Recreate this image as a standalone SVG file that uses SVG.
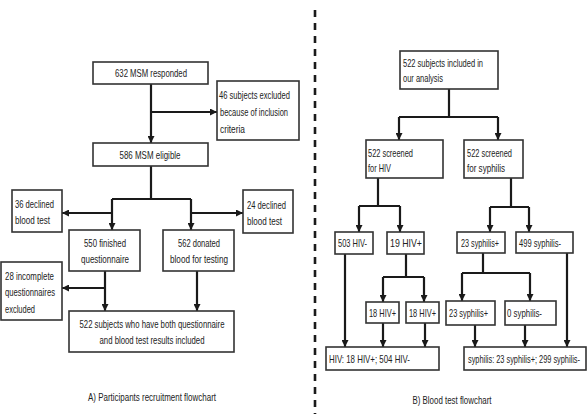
<svg xmlns="http://www.w3.org/2000/svg" width="588" height="420" viewBox="0 0 588 420">
<defs>
<marker id="ah" viewBox="0 0 8 8" refX="8" refY="4" markerWidth="7" markerHeight="7" markerUnits="userSpaceOnUse" orient="auto">
<path d="M0,0 L8,4 L0,8 z" fill="#1a1a1a"/>
</marker>
<style>
.box{fill:#fff;stroke:#333;stroke-width:1.6}
.t{font-family:"Liberation Sans",Arial,sans-serif;font-size:10.2px;fill:#222}
.c{text-anchor:middle}
.ln{fill:none;stroke:#1a1a1a;stroke-width:2.2}
.ar{fill:none;stroke:#1a1a1a;stroke-width:2.2;marker-end:url(#ah)}
.dash{stroke:#1a1a1a;stroke-width:2.6;stroke-dasharray:7 6}
</style>
</defs>
<rect width="588" height="420" fill="#fff"/>
<line class="dash" x1="315" y1="10" x2="315" y2="414"/>
<g id="connectors">
<path class="ar" d="M151,84 V143"/>
<path class="ar" d="M151,112 H217"/>
<path class="ln" d="M151,166 V199 M112,199 H191"/>
<path class="ar" d="M112,199 V230"/>
<path class="ar" d="M191,199 V230"/>
<path class="ar" d="M112,213 H62"/>
<path class="ar" d="M191,213 H243"/>
<path class="ar" d="M105,271 V311"/>
<path class="ar" d="M105,288 H62"/>
<path class="ar" d="M197,271 V311"/>
<path class="ln" d="M449,89 V117 M399,117 H498"/>
<path class="ar" d="M399,117 V140"/>
<path class="ar" d="M498,117 V140"/>
<path class="ln" d="M378,178 V206 M359,206 H400"/>
<path class="ar" d="M359,206 V232"/>
<path class="ar" d="M400,206 V232"/>
<path class="ar" d="M345,254 V347"/>
<path class="ln" d="M406,254 V277 M383,277 H424"/>
<path class="ar" d="M383,277 V302"/>
<path class="ar" d="M424,277 V302"/>
<path class="ar" d="M383,323 V347"/>
<path class="ar" d="M425,323 V347"/>
<path class="ln" d="M511,178 V207 M490,207 H529"/>
<path class="ar" d="M490,207 V232"/>
<path class="ar" d="M529,207 V232"/>
<path class="ln" d="M483,253 V273 M462,273 H530"/>
<path class="ar" d="M462,273 V301"/>
<path class="ar" d="M530,273 V301"/>
<path class="ar" d="M475,325 V347"/>
<path class="ar" d="M525,325 V347"/>
<path class="ar" d="M567,253 V347"/>
</g>
<g id="n632"><rect class="box" x="93" y="62" width="115" height="22"/><text class="t c" x="151" y="77" textLength="72" lengthAdjust="spacingAndGlyphs">632 MSM responded</text></g>
<g id="n46"><rect class="box" x="217" y="81" width="82" height="59"/><text class="t" x="219" y="99" textLength="71" lengthAdjust="spacingAndGlyphs">46 subjects excluded</text><text class="t" x="220" y="116" textLength="68" lengthAdjust="spacingAndGlyphs">because of inclusion</text><text class="t" x="220" y="133" textLength="25" lengthAdjust="spacingAndGlyphs">criteria</text></g>
<g id="n586"><rect class="box" x="93" y="143" width="115" height="23"/><text class="t c" x="150" y="159" textLength="61" lengthAdjust="spacingAndGlyphs">586 MSM eligible</text></g>
<g id="n36"><rect class="box" x="12" y="190" width="50" height="42"/><text class="t" x="15" y="208" textLength="39" lengthAdjust="spacingAndGlyphs">36 declined</text><text class="t" x="15" y="224" textLength="35" lengthAdjust="spacingAndGlyphs">blood test</text></g>
<g id="n24"><rect class="box" x="243" y="190" width="50" height="43"/><text class="t" x="247" y="209" textLength="39" lengthAdjust="spacingAndGlyphs">24 declined</text><text class="t" x="247" y="225" textLength="35" lengthAdjust="spacingAndGlyphs">blood test</text></g>
<g id="n550"><rect class="box" x="69" y="230" width="71" height="41"/><text class="t c" x="105" y="247" textLength="42" lengthAdjust="spacingAndGlyphs">550 finished</text><text class="t c" x="105" y="263" textLength="48" lengthAdjust="spacingAndGlyphs">questionnaire</text></g>
<g id="n562"><rect class="box" x="163" y="230" width="71" height="41"/><text class="t c" x="199" y="247" textLength="42" lengthAdjust="spacingAndGlyphs">562 donated</text><text class="t c" x="199" y="263" textLength="58" lengthAdjust="spacingAndGlyphs">blood for testing</text></g>
<g id="n28"><rect class="box" x="1" y="262" width="61" height="58"/><text class="t" x="5" y="280" textLength="49" lengthAdjust="spacingAndGlyphs">28 incomplete</text><text class="t" x="5" y="296" textLength="50" lengthAdjust="spacingAndGlyphs">questionnaires</text><text class="t" x="5" y="313" textLength="30" lengthAdjust="spacingAndGlyphs">excluded</text></g>
<g id="n522a"><rect class="box" x="69" y="311" width="165" height="41"/><text class="t c" x="152" y="328" textLength="145" lengthAdjust="spacingAndGlyphs">522 subjects who have both questionnaire</text><text class="t c" x="152" y="344" textLength="105" lengthAdjust="spacingAndGlyphs">and blood test results included</text></g>
<g id="n522b"><rect class="box" x="400" y="51" width="98" height="38"/><text class="t" x="403" y="67" textLength="80" lengthAdjust="spacingAndGlyphs">522 subjects included in</text><text class="t" x="403" y="82" textLength="40" lengthAdjust="spacingAndGlyphs">our analysis</text></g>
<g id="nHIV"><rect class="box" x="366" y="140" width="77" height="38"/><text class="t" x="368" y="157" textLength="45" lengthAdjust="spacingAndGlyphs">522 screened</text><text class="t" x="368" y="172" textLength="23" lengthAdjust="spacingAndGlyphs">for HIV</text></g>
<g id="nSyph"><rect class="box" x="464" y="140" width="59" height="38"/><text class="t" x="467" y="157" textLength="45" lengthAdjust="spacingAndGlyphs">522 screened</text><text class="t" x="467" y="172" textLength="38" lengthAdjust="spacingAndGlyphs">for syphilis</text></g>
<g id="n503"><rect class="box" x="335" y="232" width="38" height="22"/><text class="t" x="338" y="247" textLength="29" lengthAdjust="spacingAndGlyphs">503 HIV-</text></g>
<g id="n19"><rect class="box" x="387" y="232" width="37" height="22"/><text class="t" x="390" y="247" textLength="32" lengthAdjust="spacingAndGlyphs">19 HIV+</text></g>
<g id="n23a"><rect class="box" x="457" y="232" width="48" height="21"/><text class="t" x="461" y="247" textLength="38" lengthAdjust="spacingAndGlyphs">23 syphilis+</text></g>
<g id="n499"><rect class="box" x="516" y="232" width="57" height="21"/><text class="t" x="519" y="247" textLength="42" lengthAdjust="spacingAndGlyphs">499 syphilis-</text></g>
<g id="n18a"><rect class="box" x="366" y="302" width="33" height="21"/><text class="t" x="369" y="317" textLength="27" lengthAdjust="spacingAndGlyphs">18 HIV+</text></g>
<g id="n18b"><rect class="box" x="406" y="302" width="33" height="21"/><text class="t" x="409" y="317" textLength="27" lengthAdjust="spacingAndGlyphs">18 HIV+</text></g>
<g id="n23b"><rect class="box" x="446" y="301" width="49" height="24"/><text class="t" x="449" y="317" textLength="39" lengthAdjust="spacingAndGlyphs">23 syphilis+</text></g>
<g id="n0"><rect class="box" x="505" y="301" width="51" height="24"/><text class="t" x="507" y="317" textLength="35" lengthAdjust="spacingAndGlyphs">0 syphilis-</text></g>
<g id="nHIVres"><rect class="box" x="326" y="347" width="113" height="23"/><text class="t" x="329" y="363" textLength="81" lengthAdjust="spacingAndGlyphs">HIV: 18 HIV+; 504 HIV-</text></g>
<g id="nSyphres"><rect class="box" x="464" y="347" width="122" height="23"/><text class="t" x="468" y="363" textLength="112" lengthAdjust="spacingAndGlyphs">syphilis: 23 syphilis+; 299 syphilis-</text></g>
<text class="t c" x="152" y="401" textLength="128" lengthAdjust="spacingAndGlyphs">A) Participants recruitment flowchart</text>
<text class="t c" x="452" y="404" textLength="79" lengthAdjust="spacingAndGlyphs">B)  Blood test flowchart</text>
</svg>
